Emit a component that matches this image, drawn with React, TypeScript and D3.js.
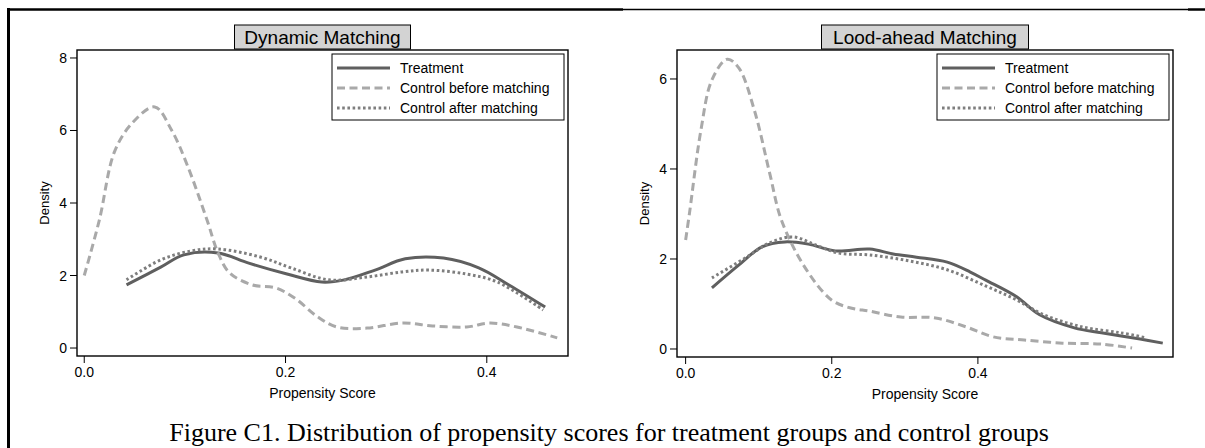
import React from "react";
import * as d3 from "d3";

// Dynamic Matching panel
const dynTreatX = [0.042, 0.076, 0.099, 0.133, 0.1635, 0.2015, 0.236, 0.2585, 0.289, 0.319, 0.357, 0.392, 0.422, 0.458];
const dynTreatY = [1.74, 2.23, 2.57, 2.62, 2.34, 2.04, 1.82, 1.88, 2.15, 2.46, 2.48, 2.21, 1.74, 1.13];
const dynBeforeX = [0, 0.015, 0.03, 0.0475, 0.07, 0.087, 0.103, 0.122, 0.133, 0.1445, 0.167, 0.19, 0.209, 0.232, 0.251, 0.281, 0.316, 0.346, 0.38, 0.403, 0.43, 0.47];
const dynBeforeY = [2.0, 3.53, 5.41, 6.2, 6.65, 6.0, 5.0, 3.53, 2.62, 2.07, 1.74, 1.66, 1.38, 0.86, 0.58, 0.55, 0.69, 0.61, 0.58, 0.69, 0.58, 0.28];
const dynAfterX = [0.042, 0.076, 0.1065, 0.133, 0.175, 0.2055, 0.243, 0.281, 0.316, 0.342, 0.38, 0.4105, 0.456];
const dynAfterY = [1.88, 2.43, 2.68, 2.73, 2.51, 2.21, 1.88, 1.96, 2.1, 2.15, 2.04, 1.82, 1.05];

// Lood-ahead Matching panel
const lookTreatX = [0.036, 0.073, 0.1045, 0.136, 0.168, 0.205, 0.252, 0.284, 0.316, 0.358, 0.3896, 0.4107, 0.453, 0.4845, 0.532, 0.569, 0.622, 0.653];
const lookTreatY = [1.36, 1.87, 2.27, 2.38, 2.33, 2.18, 2.22, 2.11, 2.04, 1.93, 1.71, 1.53, 1.16, 0.76, 0.47, 0.36, 0.22, 0.13];
const lookBeforeX = [0, 0.0053, 0.021, 0.036, 0.057, 0.073, 0.094, 0.115, 0.131, 0.163, 0.1996, 0.226, 0.252, 0.2945, 0.342, 0.384, 0.421, 0.4635, 0.516, 0.569, 0.611];
const lookBeforeY = [2.42, 3.02, 4.87, 5.98, 6.44, 6.24, 5.31, 3.91, 2.87, 1.82, 1.09, 0.91, 0.84, 0.71, 0.69, 0.49, 0.27, 0.2, 0.13, 0.11, 0.02];
const lookAfterX = [0.036, 0.0835, 0.115, 0.147, 0.178, 0.21, 0.252, 0.305, 0.358, 0.4107, 0.453, 0.49, 0.543, 0.595, 0.63];
const lookAfterY = [1.58, 2.04, 2.36, 2.49, 2.31, 2.13, 2.09, 1.96, 1.76, 1.4, 1.09, 0.76, 0.49, 0.36, 0.25];

const xTicks = [0, 0.2, 0.4];
const dynYTicks = [0, 2, 4, 6, 8];
const lookYTicks = [0, 2, 4, 6];
const legendLabels = ["Treatment", "Control before matching", "Control after matching"];

const SANS = "'Liberation Sans', Arial, Helvetica, sans-serif";
const STYLES = [
  { stroke: "#5f5f5f", dash: "none" },
  { stroke: "#a9a9a9", dash: "8,4.5" },
  { stroke: "#7e7e7e", dash: "2.6,2.6" },
];

const zip = (xs: number[], ys: number[]) => xs.map((x, i) => [x, ys[i]] as [number, number]);

type PanelProps = {
  title: string;
  titleWidth: number;
  left: number;
  right: number;
  top: number;
  bottom: number;
  xDomain: [number, number];
  yDomain: [number, number];
  yTicks: number[];
  series: [number, number][][];
};

const Panel = ({ title, titleWidth, left, right, top, bottom, xDomain, yDomain, yTicks, series }: PanelProps) => {
  const xScale = d3.scaleLinear().domain(xDomain).range([left, right]);
  const yScale = d3.scaleLinear().domain(yDomain).range([bottom, top]);
  const line = d3
    .line<[number, number]>()
    .x((d) => xScale(d[0]))
    .y((d) => yScale(d[1]))
    .curve(d3.curveCatmullRom.alpha(0.5));
  const cx = (left + right) / 2;
  const midY = (top + bottom) / 2;
  const legL = right - 236;

  return (
    <g fontFamily={SANS}>
      {/* curves */}
      {series.map((s, i) => (
        <path
          key={i}
          d={line(s) || ""}
          fill="none"
          stroke={STYLES[i].stroke}
          strokeWidth={3}
          strokeDasharray={STYLES[i].dash}
        />
      ))}
      {/* frame */}
      <rect x={left} y={top} width={right - left} height={bottom - top} fill="none" stroke="#000" strokeWidth={1.4} />
      {/* y axis */}
      {yTicks.map((t) => (
        <g key={t}>
          <line x1={left - 7} x2={left} y1={yScale(t)} y2={yScale(t)} stroke="#000" strokeWidth={1} />
          <text x={left - 10} y={yScale(t) + 5} textAnchor="end" fontSize={14}>
            {t}
          </text>
        </g>
      ))}
      {/* x axis */}
      {xTicks.map((t) => (
        <g key={t}>
          <line x1={xScale(t)} x2={xScale(t)} y1={bottom} y2={bottom + 7} stroke="#000" strokeWidth={1} />
          <text x={xScale(t)} y={bottom + 21} textAnchor="middle" fontSize={14}>
            {d3.format(".1f")(t)}
          </text>
        </g>
      ))}
      <text x={cx} y={bottom + 42} textAnchor="middle" fontSize={14}>
        Propensity Score
      </text>
      <text
        transform={`translate(${left - 33},${midY}) rotate(-90)`}
        textAnchor="middle"
        dominantBaseline="central"
        fontSize={13}
      >
        Density
      </text>
      {/* title */}
      <rect x={cx - titleWidth / 2} y={25} width={titleWidth} height={24} fill="#d3d3d3" stroke="#000" strokeWidth={1} />
      <text x={cx} y={44} textAnchor="middle" fontSize={19}>
        {title}
      </text>
      {/* legend */}
      <rect x={legL} y={top + 4} width={232} height={66} fill="#fff" stroke="#000" strokeWidth={1} />
      {legendLabels.map((lab, i) => {
        const ly = top + 18 + i * 20;
        return (
          <g key={lab}>
            <line
              x1={legL + 5}
              x2={legL + 58}
              y1={ly}
              y2={ly}
              stroke={STYLES[i].stroke}
              strokeWidth={3}
              strokeDasharray={STYLES[i].dash}
            />
            <text x={legL + 68} y={ly + 5} fontSize={14}>
              {lab}
            </text>
          </g>
        );
      })}
    </g>
  );
};

export default function App() {
  return (
    <svg
      width={1205}
      height={448}
      style={{ position: "absolute", left: 0, top: 0, display: "block", background: "#fff" }}
    >
      <rect x={0} y={0} width={1205} height={448} fill="#fff" />
      {/* outer frame */}
      <line x1={7} x2={623} y1={9.5} y2={9.5} stroke="#000" strokeWidth={2.5} />
      <line x1={623} x2={1188} y1={9.5} y2={9.5} stroke="#000" strokeWidth={1.3} />
      <line x1={1188} x2={1205} y1={9.5} y2={9.5} stroke="#000" strokeWidth={2.5} />
      <line x1={8.5} x2={8.5} y1={8} y2={448} stroke="#000" strokeWidth={3} />

      <Panel
        title="Dynamic Matching"
        titleWidth={176}
        left={77}
        right={568}
        top={50}
        bottom={356}
        xDomain={[-0.0072, 0.4807]}
        yDomain={[-0.22, 8.22]}
        yTicks={dynYTicks}
        series={[zip(dynTreatX, dynTreatY), zip(dynBeforeX, dynBeforeY), zip(dynAfterX, dynAfterY)]}
      />
      <Panel
        title="Lood-ahead Matching"
        titleWidth={207}
        left={677}
        right={1173}
        top={50}
        bottom={357}
        xDomain={[-0.0118, 0.667]}
        yDomain={[-0.178, 6.644]}
        yTicks={lookYTicks}
        series={[zip(lookTreatX, lookTreatY), zip(lookBeforeX, lookBeforeY), zip(lookAfterX, lookAfterY)]}
      />

      <text
        x={609}
        y={441}
        textAnchor="middle"
        fontFamily="'Liberation Serif', 'Times New Roman', serif"
        fontSize={26}
      >
        Figure C1. Distribution of propensity scores for treatment groups and control groups
      </text>
    </svg>
  );
}
